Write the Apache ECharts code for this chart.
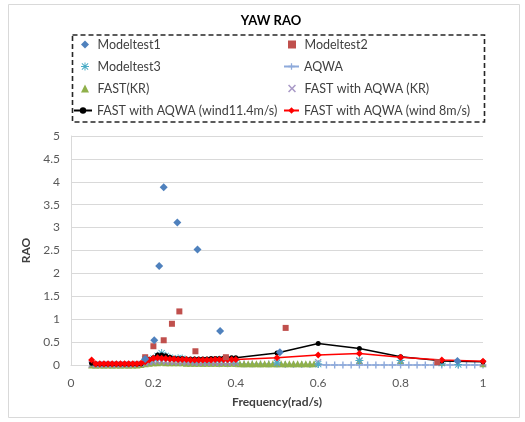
<!DOCTYPE html>
<html><head><meta charset="utf-8">
<script src="https://cdn.jsdelivr.net/npm/echarts@6/dist/echarts.min.js"></script>
<style>html,body{margin:0;padding:0;background:#fff}#c{width:525px;height:422px}</style>
</head><body><div id="c"></div>
<script>
var xTicks = [0, 0.2, 0.4, 0.6, 0.8, 1];
var yTicks = [0, 0.5, 1, 1.5, 2, 2.5, 3, 3.5, 4, 4.5, 5];

var modeltest1 = [[0.18,0.13],[0.202,0.54],[0.214,2.16],[0.225,3.88],[0.258,3.11],[0.307,2.52],[0.362,0.74],[0.507,0.28],[0.938,0.09]];
var modeltest2 = [[0.18,0.17],[0.2,0.41],[0.225,0.54],[0.245,0.9],[0.263,1.17],[0.302,0.3],[0.376,0.17],[0.521,0.81],[0.889,0.06]];
var modeltest3 = [[0.18,0.12],[0.19,0.1],[0.2,0.14],[0.21,0.2],[0.22,0.26],[0.23,0.2],[0.24,0.16],[0.26,0.15],[0.27,0.14],[0.3,0.1],[0.33,0.1],[0.36,0.12],[0.4,0.1],[0.5,0.05],[0.6,0.02],[0.7,0.1],[0.8,0.1],[0.9,0.04],[0.94,0.01]];
var aqwa = [[0.06,0],[0.08,0],[0.1,0],[0.12,0],[0.14,0],[0.16,0.01],[0.18,0.05],[0.2,0.1],[0.22,0.12],[0.24,0.1],[0.26,0.08],[0.28,0.06],[0.3,0.05],[0.32,0.04],[0.34,0.04],[0.36,0.03],[0.38,0.03],[0.4,0.03],[0.42,0.02],[0.44,0.02],[0.46,0.02],[0.48,0.02],[0.5,0.02],[0.52,0.01],[0.54,0.01],[0.56,0.01],[0.58,0.01],[0.6,0.01],[0.62,0],[0.64,0],[0.66,0],[0.68,0],[0.7,0],[0.72,0],[0.74,0],[0.76,0],[0.78,0],[0.8,0],[0.82,0],[0.84,0],[0.86,0],[0.88,0],[0.9,0],[0.92,0],[0.94,0],[0.96,0],[0.98,0],[1.0,0]];
var fastKR = [[0.05,0.0],[0.06,0.0],[0.07,0.0],[0.08,0.0],[0.09,0.0],[0.1,0.0],[0.11,0.0],[0.12,0.0],[0.13,0.0],[0.14,0.0],[0.15,0.0],[0.16,0.0],[0.17,0.01],[0.18,0.03],[0.19,0.04],[0.2,0.05],[0.21,0.05],[0.22,0.06],[0.23,0.05],[0.24,0.05],[0.25,0.05],[0.26,0.05],[0.27,0.05],[0.28,0.04],[0.29,0.04],[0.3,0.04],[0.31,0.04],[0.32,0.04],[0.33,0.04],[0.34,0.04],[0.35,0.04],[0.36,0.04],[0.37,0.04],[0.38,0.04],[0.39,0.04],[0.4,0.04],[0.41,0.03],[0.42,0.03],[0.43,0.03],[0.44,0.03],[0.45,0.03],[0.46,0.03],[0.47,0.03],[0.48,0.03],[0.49,0.03],[0.5,0.03],[0.51,0.03],[0.52,0.03],[0.53,0.03],[0.54,0.03],[0.55,0.03],[0.56,0.03],[0.57,0.03],[0.58,0.03],[0.59,0.03],[0.7,0.1],[0.8,0.1],[0.9,0.06],[1.0,0.03]];
var fastAqwaKR = [[0.05,0.01],[0.06,0.01],[0.07,0.01],[0.08,0.01],[0.09,0.01],[0.1,0.01],[0.11,0.01],[0.12,0.01],[0.13,0.01],[0.14,0.01],[0.15,0.01],[0.16,0.02],[0.17,0.02],[0.18,0.04],[0.19,0.06],[0.2,0.07],[0.21,0.08],[0.22,0.08],[0.23,0.07],[0.24,0.07],[0.25,0.06],[0.26,0.06],[0.27,0.06],[0.28,0.06],[0.29,0.06],[0.3,0.05],[0.31,0.05],[0.32,0.05],[0.33,0.05],[0.34,0.05],[0.35,0.05],[0.36,0.05],[0.37,0.05],[0.38,0.05],[0.39,0.05],[0.4,0.05],[0.5,0.05],[0.6,0.06],[0.7,0.09],[0.8,0.1],[0.9,0.05],[1.0,0.03]];
var wind114 = [[0.05,0.04],[0.06,0.02],[0.07,0.02],[0.08,0.02],[0.09,0.02],[0.1,0.02],[0.11,0.02],[0.12,0.02],[0.13,0.02],[0.14,0.02],[0.15,0.02],[0.16,0.02],[0.17,0.03],[0.18,0.08],[0.19,0.12],[0.2,0.16],[0.21,0.22],[0.22,0.22],[0.23,0.2],[0.24,0.17],[0.25,0.15],[0.26,0.14],[0.27,0.14],[0.28,0.13],[0.29,0.13],[0.3,0.13],[0.31,0.13],[0.32,0.13],[0.33,0.13],[0.34,0.14],[0.35,0.14],[0.36,0.14],[0.37,0.15],[0.38,0.15],[0.39,0.16],[0.4,0.16],[0.5,0.26],[0.6,0.47],[0.7,0.36],[0.8,0.18],[0.9,0.09],[1.0,0.07]];
var wind8 = [[0.05,0.11],[0.06,0.03],[0.07,0.03],[0.08,0.03],[0.09,0.03],[0.1,0.03],[0.11,0.03],[0.12,0.03],[0.13,0.03],[0.14,0.03],[0.15,0.03],[0.16,0.03],[0.17,0.04],[0.18,0.07],[0.19,0.11],[0.2,0.15],[0.21,0.16],[0.22,0.15],[0.23,0.14],[0.24,0.13],[0.25,0.13],[0.26,0.12],[0.27,0.12],[0.28,0.12],[0.29,0.11],[0.3,0.11],[0.31,0.11],[0.32,0.11],[0.33,0.11],[0.34,0.11],[0.35,0.12],[0.36,0.12],[0.37,0.12],[0.38,0.12],[0.39,0.12],[0.4,0.12],[0.5,0.16],[0.6,0.22],[0.7,0.25],[0.8,0.17],[0.9,0.11],[1.0,0.08]];

var names = ['Modeltest1','Modeltest2','Modeltest3','AQWA','FAST(KR)','FAST with AQWA (KR)','FAST with AQWA (wind11.4m/s)','FAST with AQWA (wind 8m/s)'];

var PLUS = 'path://M4,0H6V4H10V6H6V10H4V6H0V4H4Z';
var XMARK = 'path://M1.4,0L5,3.6L8.6,0L10,1.4L6.4,5L10,8.6L8.6,10L5,6.4L1.4,10L0,8.6L3.6,5L0,1.4Z';
var ASTER = 'path://M4.4,0H5.6V4.4H10V5.6H5.6V10H4.4V5.6H0V4.4H4.4Z M1.5,0.7L5,4.2L8.5,0.7L9.3,1.5L5.8,5L9.3,8.5L8.5,9.3L5,5.8L1.5,9.3L0.7,8.5L4.2,5L0.7,1.5Z';
var DIAM = 'path://M5,0L10,5L5,10L0,5Z';
var SQR = 'path://M0,0H10V10H0Z';
var TRI = 'path://M5,0L10,10H0Z';

var FONT = 'Lato';
var chart = echarts.init(document.getElementById('c'), null, {renderer:'canvas'});
var legendText = {fontFamily: FONT, fontSize: 12.5, color: '#404040'};
var rowY = [38, 60, 82, 104];
// [left, row, itemWidth] per legend entry
var legendPos = [[81,0,15],[288,0,15],[81,1,15],[283,1,15],[81,2,15],[288,2,15],[73,3,18],[283,3,15]];
var legends = names.map(function(n, i){
  var p = legendPos[i];
  return {data: [n], left: p[0], top: rowY[p[1]], padding: 0, orient: 'horizontal',
    itemWidth: p[2], itemHeight: 8, symbolKeepAspect: true,
    textStyle: legendText, selectedMode: false};
});
chart.setOption({
  animation: false,
  backgroundColor: '#fff',
  title: {text: 'YAW RAO', left: 266, top: 9, textAlign: 'center',
    textStyle: {fontFamily: FONT, fontSize: 13, fontWeight: 'bold', color: '#000'}},
  graphic: [
    {type: 'rect', shape: {x: 8.5, y: 4.5, width: 511, height: 413}, style: {fill: 'none', stroke: '#d9d9d9', lineWidth: 1}, silent: true},
    {type: 'rect', shape: {x: 72.5, y: 35, width: 412, height: 87}, style: {fill: 'none', stroke: '#262626', lineWidth: 1.6, lineDash: [5, 3]}, silent: true, z: 10}
  ],
  legend: legends,
  grid: {left: 71, right: 42, top: 136, bottom: 57, containLabel: false},
  xAxis: {type: 'value', min: xTicks[0], max: xTicks[xTicks.length-1], interval: 0.2,
    name: 'Frequency(rad/s)', nameLocation: 'middle', nameGap: 31,
    nameTextStyle: {fontFamily: FONT, fontSize: 12, fontWeight: 'bold', color: '#404040'},
    axisLine: {show: true, lineStyle: {color: '#d9d9d9'}}, axisTick: {show: false},
    axisLabel: {fontFamily: FONT, fontSize: 12, color: '#595959', margin: 12, formatter: function(v){return String(+v.toFixed(1));}},
    splitLine: {show: false}},
  yAxis: {type: 'value', min: yTicks[0], max: yTicks[yTicks.length-1], interval: 0.5,
    name: 'RAO', nameLocation: 'middle', nameGap: 38, nameRotate: 90,
    nameTextStyle: {fontFamily: FONT, fontSize: 12, fontWeight: 'bold', color: '#404040'},
    axisLine: {show: true, lineStyle: {color: '#d9d9d9'}}, axisTick: {show: false},
    axisLabel: {fontFamily: FONT, fontSize: 12, color: '#595959', margin: 11},
    splitLine: {show: true, lineStyle: {color: '#d9d9d9', width: 1}}},
  series: [
    {name: names[3], type: 'line', data: aqwa, symbol: PLUS, symbolSize: 7, showSymbol: true, symbolKeepAspect: true,
      lineStyle: {color: '#8eaadb', width: 1.5}, itemStyle: {color: '#8eaadb'}, z: 2},
    {name: names[4], type: 'scatter', data: fastKR, symbol: TRI, symbolSize: 7, symbolKeepAspect: true,
      itemStyle: {color: '#8fb04a', opacity: 1}, z: 3},
    {name: names[5], type: 'scatter', data: fastAqwaKR, symbol: XMARK, symbolSize: 7, symbolKeepAspect: true,
      itemStyle: {color: '#9a88bd', opacity: 0.85}, z: 4},
    {name: names[2], type: 'scatter', data: modeltest3, symbol: ASTER, symbolSize: 8, symbolKeepAspect: true,
      itemStyle: {color: '#4bacc6', opacity: 1}, z: 5},
    {name: names[6], type: 'line', data: wind114, symbol: 'circle', symbolSize: 5, showSymbol: true,
      lineStyle: {color: '#000', width: 1.5}, itemStyle: {color: '#000'}, z: 6},
    {name: names[7], type: 'line', data: wind8, symbol: DIAM, symbolSize: 7, showSymbol: true, symbolKeepAspect: true,
      lineStyle: {color: '#ff0000', width: 1.5}, itemStyle: {color: '#ff0000'}, z: 7},
    {name: names[1], type: 'scatter', data: modeltest2, symbol: SQR, symbolSize: 6, symbolKeepAspect: true,
      itemStyle: {color: '#c0504d', opacity: 1}, z: 8},
    {name: names[0], type: 'scatter', data: modeltest1, symbol: DIAM, symbolSize: 8, symbolKeepAspect: true,
      itemStyle: {color: '#4f81bd', opacity: 1}, z: 9}
  ]
});
</script></body></html>
